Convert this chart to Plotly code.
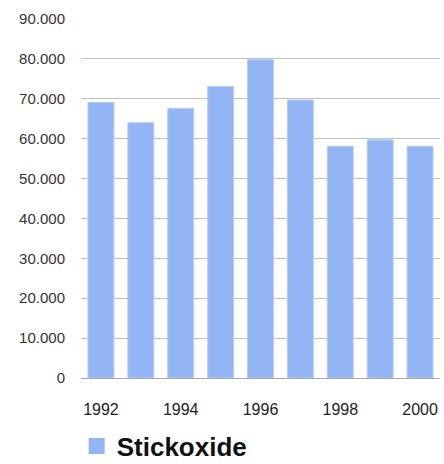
import plotly.graph_objects as go

# Stickoxide-Emissionen
jahre = [1992, 1993, 1994, 1995, 1996, 1997, 1998, 1999, 2000]
stickoxide = [69100, 64000, 67600, 73100, 79800, 69700, 58100, 59700, 58100]
y_ticks = [0, 10000, 20000, 30000, 40000, 50000, 60000, 70000, 80000, 90000]
x_ticks = [1992, 1994, 1996, 1998, 2000]

BAR_COLOR = "#94b5f5"
GRID_COLOR = "#c0c0c0"
FONT = "Liberation Sans, Arial, sans-serif"

fig = go.Figure()
fig.add_trace(
    go.Bar(
        x=jahre,
        y=stickoxide,
        name="Stickoxide",
        marker=dict(color=BAR_COLOR, line=dict(color="#b4ccf8", width=1)),
        showlegend=False,
    )
)
# nur fuer die Legende (groesseres Quadrat)
fig.add_trace(
    go.Scatter(
        x=[None],
        y=[None],
        mode="markers",
        name="Stickoxide",
        marker=dict(symbol="square", size=16, color=BAR_COLOR),
    )
)

fig.update_layout(
    width=444,
    height=464,
    margin=dict(l=81, r=4, t=19, b=86, autoexpand=False),
    paper_bgcolor="white",
    plot_bgcolor="white",
    bargap=0.35,
    separators=",.",
    font=dict(family=FONT, size=16, color="#333333"),
    legend=dict(
        orientation="h",
        x=-0.012,
        xanchor="left",
        y=-0.19,
        yanchor="middle",
        font=dict(size=26, color="#111111", family=FONT, weight="bold"),
    ),
)
fig.update_xaxes(
    range=[1991.5, 2000.5],
    tickvals=x_ticks,
    ticktext=[str(t) for t in x_ticks],
    showgrid=False,
    showline=False,
    ticks="",
    ticklabelstandoff=20,
    tickfont=dict(size=16, color="#222222"),
)
fig.update_yaxes(
    range=[0, 90000],
    tickvals=y_ticks,
    tickformat=",d",
    showgrid=True,
    gridcolor=GRID_COLOR,
    gridwidth=1,
    zeroline=True,
    zerolinecolor="#a8a8a8",
    zerolinewidth=1,
    ticks="",
    ticklabelstandoff=15,
    tickfont=dict(size=15, color="#333333"),
)

fig.write_html(
    "out.html",
    config={"displayModeBar": False},
    post_script="document.body.style.margin='0';",
)
